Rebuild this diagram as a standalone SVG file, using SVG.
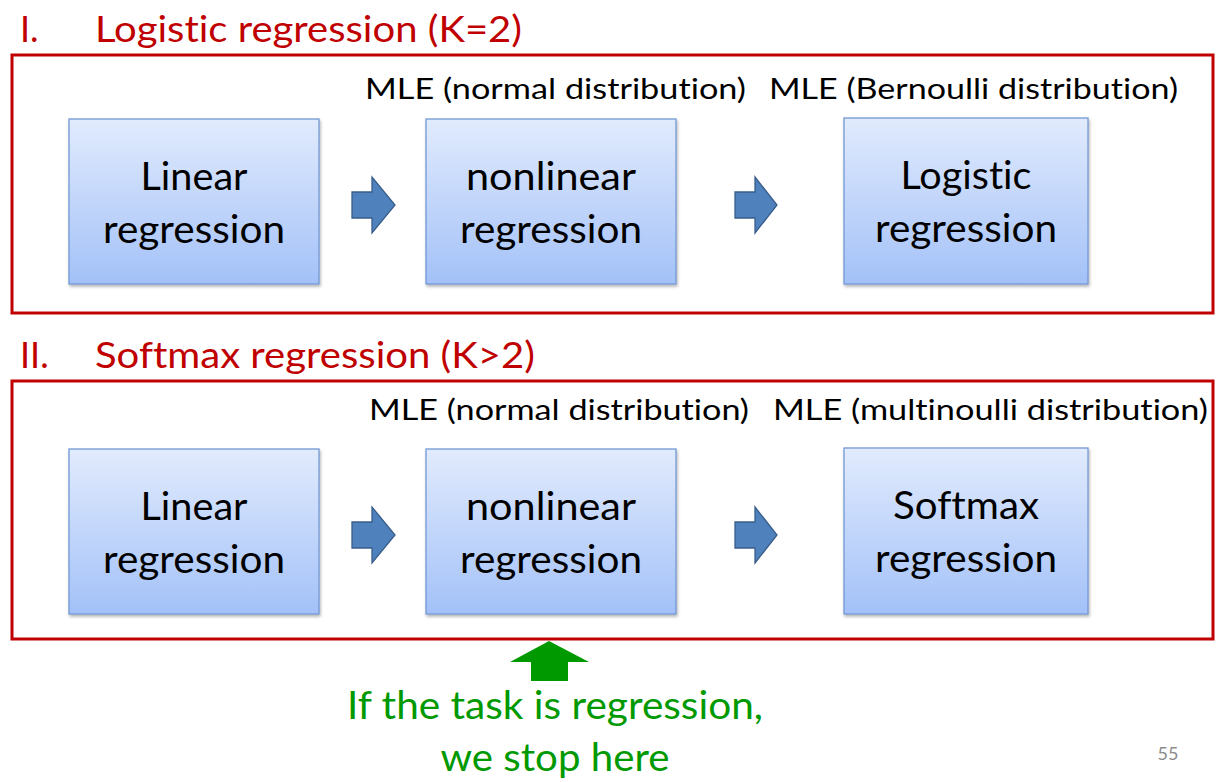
<svg xmlns="http://www.w3.org/2000/svg" width="1224" height="782" viewBox="0 0 1224 782">
<defs>
<linearGradient id="bg" x1="0" y1="0" x2="0" y2="1">
<stop offset="0" stop-color="#e1ebfd"/>
<stop offset="1" stop-color="#a3c1f8"/>
</linearGradient>
<filter id="sh" x="-10%" y="-10%" width="120%" height="120%">
<feDropShadow dx="1" dy="2" stdDeviation="1.5" flood-color="#000" flood-opacity="0.3"/>
</filter>
</defs>
<style>
text{font-family:Lato,"Open Sans","Liberation Sans",sans-serif;font-variant-ligatures:none;font-feature-settings:"liga" 0,"clig" 0,"dlig" 0}
.title{fill:#c00000;font-size:36px}
.frame{fill:none;stroke:#c00000;stroke-width:3}
.box{fill:url(#bg);stroke:#7399d4;stroke-width:1.3;filter:url(#sh)}
.bt{font-size:38px;fill:#000;text-anchor:middle}
.mle{font-size:28px;fill:#000}
.arr{fill:#4f81bd;stroke:#385d8a;stroke-width:1.3}
.green{fill:#009900;font-size:38px;text-anchor:middle}
</style>
<rect width="1224" height="782" fill="#fff"/>
<g id="title1">
<text class="title" x="20" y="42">I.</text>
<text class="title" x="95" y="42" textLength="427" lengthAdjust="spacingAndGlyphs">Logistic regression (K=2)</text>
</g>
<rect id="frame1" class="frame" x="12" y="55" width="1201" height="258"/>
<g id="title2">
<text class="title" x="20" y="368">II.</text>
<text class="title" x="95" y="368" textLength="440" lengthAdjust="spacingAndGlyphs">Softmax regression (K&gt;2)</text>
</g>
<rect id="frame2" class="frame" x="12" y="381" width="1201" height="258"/>
<g id="mle-labels">
<text class="mle" x="365" y="99" textLength="381" lengthAdjust="spacingAndGlyphs">MLE (normal distribution)</text>
<text class="mle" x="769" y="99" textLength="409" lengthAdjust="spacingAndGlyphs">MLE (Bernoulli distribution)</text>
<text class="mle" x="369" y="420" textLength="380" lengthAdjust="spacingAndGlyphs">MLE (normal distribution)</text>
<text class="mle" x="773" y="420" textLength="435" lengthAdjust="spacingAndGlyphs">MLE (multinoulli distribution)</text>
</g>
<g id="n1">
<rect class="box" x="69" y="119" width="250" height="165"/>
<text class="bt" x="194" y="190" textLength="107" lengthAdjust="spacingAndGlyphs">Linear</text>
<text class="bt" x="194" y="243" textLength="182" lengthAdjust="spacingAndGlyphs">regression</text>
</g>
<g id="n2">
<rect class="box" x="426" y="119" width="250" height="165"/>
<text class="bt" x="551" y="190" textLength="170" lengthAdjust="spacingAndGlyphs">nonlinear</text>
<text class="bt" x="551" y="243" textLength="182" lengthAdjust="spacingAndGlyphs">regression</text>
</g>
<g id="n3">
<rect class="box" x="844" y="118" width="244" height="166"/>
<text class="bt" x="966" y="189" textLength="131" lengthAdjust="spacingAndGlyphs">Logistic</text>
<text class="bt" x="966" y="242" textLength="182" lengthAdjust="spacingAndGlyphs">regression</text>
</g>
<g id="n4">
<rect class="box" x="69" y="449" width="250" height="165"/>
<text class="bt" x="194" y="520" textLength="107" lengthAdjust="spacingAndGlyphs">Linear</text>
<text class="bt" x="194" y="573" textLength="182" lengthAdjust="spacingAndGlyphs">regression</text>
</g>
<g id="n5">
<rect class="box" x="426" y="449" width="250" height="165"/>
<text class="bt" x="551" y="520" textLength="170" lengthAdjust="spacingAndGlyphs">nonlinear</text>
<text class="bt" x="551" y="573" textLength="182" lengthAdjust="spacingAndGlyphs">regression</text>
</g>
<g id="n6">
<rect class="box" x="844" y="448" width="244" height="166"/>
<text class="bt" x="966" y="519" textLength="146" lengthAdjust="spacingAndGlyphs">Softmax</text>
<text class="bt" x="966" y="572" textLength="182" lengthAdjust="spacingAndGlyphs">regression</text>
</g>
<g id="connectors">
<path class="arr" d="M352,192 H372 V177 L395,205 L372,233 V218 H352 Z"/>
<path class="arr" d="M735,192 H755 V177 L777,205 L755,233 V218 H735 Z"/>
<path class="arr" d="M352,522 H372 V507 L395,535 L372,563 V548 H352 Z"/>
<path class="arr" d="M735,522 H755 V507 L777,535 L755,563 V548 H735 Z"/>
<path fill="#009900" d="M549,641 L589,662 H568 V681 H531 V662 H510 Z"/>
</g>
<g id="note">
<text class="green" x="555" y="719" textLength="416" lengthAdjust="spacingAndGlyphs">If the task is regression,</text>
<text class="green" x="555" y="771" textLength="229" lengthAdjust="spacingAndGlyphs">we stop here</text>
</g>
<text x="1168" y="760" font-size="18" fill="#8c8c8c" text-anchor="middle">55</text>
</svg>
